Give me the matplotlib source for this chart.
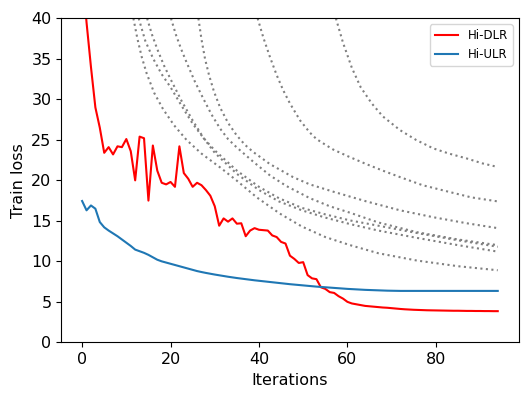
import matplotlib
matplotlib.use("Agg")
import matplotlib.pyplot as plt

# Hi-DLR train loss, one value per iteration
dlr_loss = [46.0, 39.5, 34.0, 29.0, 26.5, 23.4, 24.1, 23.2, 24.2, 24.1,
            25.1, 23.6, 20.0, 25.4, 25.2, 17.5, 24.3, 21.2, 19.7, 19.5,
            19.8, 19.2, 24.2, 20.9, 20.2, 19.2, 19.7, 19.4, 18.8, 18.1,
            16.8, 14.4, 15.3, 14.9, 15.3, 14.65, 14.7, 13.1, 13.8, 14.1,
            13.9, 13.85, 13.8, 13.2, 13.0, 12.4, 12.2, 10.7, 10.3, 9.8,
            9.9, 8.3, 7.9, 7.8, 6.8, 6.6, 6.2, 6.1, 5.7, 5.4,
            5.0, 4.8, 4.7, 4.6, 4.5, 4.45, 4.4, 4.35, 4.3, 4.27,
            4.22, 4.17, 4.12, 4.08, 4.05, 4.02, 4.0, 3.98, 3.96, 3.95,
            3.94, 3.93, 3.92, 3.91, 3.9, 3.9, 3.89, 3.88, 3.88, 3.87,
            3.87, 3.86, 3.86, 3.85, 3.85]

# Hi-ULR train loss
ulr_loss = [17.45, 16.3, 16.9, 16.5, 14.85, 14.2, 13.8, 13.45, 13.1, 12.7,
            12.3, 11.9, 11.45, 11.25, 11.05, 10.8, 10.5, 10.2, 10.0, 9.85,
            9.7, 9.55, 9.4, 9.25, 9.1, 8.95, 8.8, 8.68, 8.57, 8.47,
            8.37, 8.28, 8.19, 8.1, 8.02, 7.94, 7.87, 7.8, 7.73, 7.66,
            7.6, 7.54, 7.48, 7.42, 7.36, 7.3, 7.24, 7.18, 7.13, 7.08,
            7.03, 6.98, 6.93, 6.88, 6.84, 6.8, 6.76, 6.72, 6.68, 6.64,
            6.6, 6.57, 6.54, 6.51, 6.48, 6.46, 6.44, 6.42, 6.4, 6.38,
            6.37, 6.36, 6.35, 6.35, 6.35, 6.35, 6.35, 6.35, 6.35, 6.35,
            6.35, 6.35, 6.35, 6.35, 6.35, 6.35, 6.35, 6.35, 6.35, 6.35,
            6.35, 6.35, 6.35, 6.35, 6.35]

iterations = list(range(len(dlr_loss)))

# dotted grey reference curves (x, y)
ref_a_x = [57.4, 59, 61, 63, 65.5, 68, 71.9, 75.5, 79.4, 83, 87, 90.5, 94]
ref_a_y = [40, 37.0, 33.9, 31.5, 29.5, 27.9, 26.2, 25.0, 23.95, 23.3, 22.7, 22.1, 21.65]
ref_b_x = [39.7, 41, 42.5, 44, 45.5, 47, 49.3, 51.5, 53, 55, 56.8, 60, 64.3, 68, 71.9, 77, 83.2, 88, 94]
ref_b_y = [40, 37.6, 35.2, 33.0, 31.1, 29.5, 27.4, 25.9, 25.1, 24.4, 23.8, 23.0, 22.0, 21.2, 20.4, 19.4, 18.55, 17.9, 17.4]
ref_c_x = [26.3, 27.0, 27.8, 28.7, 29.8, 31.2, 33, 34.9, 36.8, 38.7, 42.5, 47.7, 51.5, 56.8, 64.3, 71.9, 79.4, 87, 94]
ref_c_y = [40, 37.4, 35.0, 33.0, 31.0, 29.0, 27.1, 25.6, 24.4, 23.5, 22.0, 20.4, 19.5, 18.6, 17.4, 16.3, 15.45, 14.7, 14.1]
ref_d_x = [20.1, 21.2, 22.4, 23.6, 25.5, 27.4, 29.3, 31.2, 33, 34.9, 38.7, 42.5, 46.2, 51.5, 56, 60.6, 67, 75.7, 85, 94]
ref_d_y = [40, 38.0, 36.2, 34.6, 32.2, 30.1, 28.1, 26.4, 25.1, 24.1, 22.3, 20.6, 19.3, 17.8, 16.8, 16.0, 14.8, 13.6, 12.7, 12.0]
ref_e_x = [12.8, 14.3, 16.1, 18, 20, 22.5, 25, 27.5, 30, 35, 40, 44.5, 49.7, 55, 60.6, 67, 75.7, 85, 94]
ref_e_y = [40, 37.2, 35.0, 33.1, 31.5, 29.2, 27.0, 25.2, 23.7, 21.2, 19.2, 17.8, 16.6, 15.8, 15.05, 14.4, 13.5, 12.6, 11.8]
ref_f_x = [14.7, 15.8, 17, 18.5, 20, 22.5, 25, 27.5, 30, 35, 40, 44.5, 49.7, 55, 60.6, 67, 75.7, 85, 94]
ref_f_y = [40, 38.0, 36.2, 34.2, 32.5, 29.8, 27.4, 25.2, 23.4, 20.8, 18.8, 17.4, 16.3, 15.4, 14.6, 13.8, 12.9, 12.0, 11.2]
ref_g_x = [11.6, 12.5, 13.5, 14.6, 16.3, 18.3, 20.8, 23.6, 27, 31.2, 34.9, 39.5, 44.7, 49.7, 55, 60.6, 67, 75.7, 85, 94]
ref_g_y = [40, 37.5, 35.2, 33.2, 30.8, 28.8, 26.8, 25.0, 23.3, 21.6, 20.0, 17.9, 15.9, 14.3, 13.0, 12.0, 11.0, 10.1, 9.4, 8.9]

ref_curves = [(ref_a_x, ref_a_y), (ref_b_x, ref_b_y), (ref_c_x, ref_c_y),
              (ref_d_x, ref_d_y), (ref_e_x, ref_e_y), (ref_f_x, ref_f_y),
              (ref_g_x, ref_g_y)]

fig = plt.figure(figsize=(5.31, 3.99), dpi=100)
ax = fig.add_axes([0.1155, 0.142, 0.861, 0.812])

for rx, ry in ref_curves:
    ax.plot(rx, ry, linestyle=':', color='gray', linewidth=1.5)

ax.plot(iterations, dlr_loss, color='red', linewidth=1.5, label='Hi-DLR')
ax.plot(iterations, ulr_loss, color='tab:blue', linewidth=1.5, label='Hi-ULR')

ax.set_ylim(0, 40)
ax.set_xlim(-4.7, 98.7)
ax.set_xticks([0, 20, 40, 60, 80])
ax.set_yticks(range(0, 41, 5))
ax.tick_params(labelsize=11.5)
ax.set_xlabel('Iterations', fontsize=11.5)
ax.set_ylabel('Train loss', fontsize=11.5)
ax.legend(loc='upper right', fontsize=8.5)

fig.savefig('out.png', dpi=100)
